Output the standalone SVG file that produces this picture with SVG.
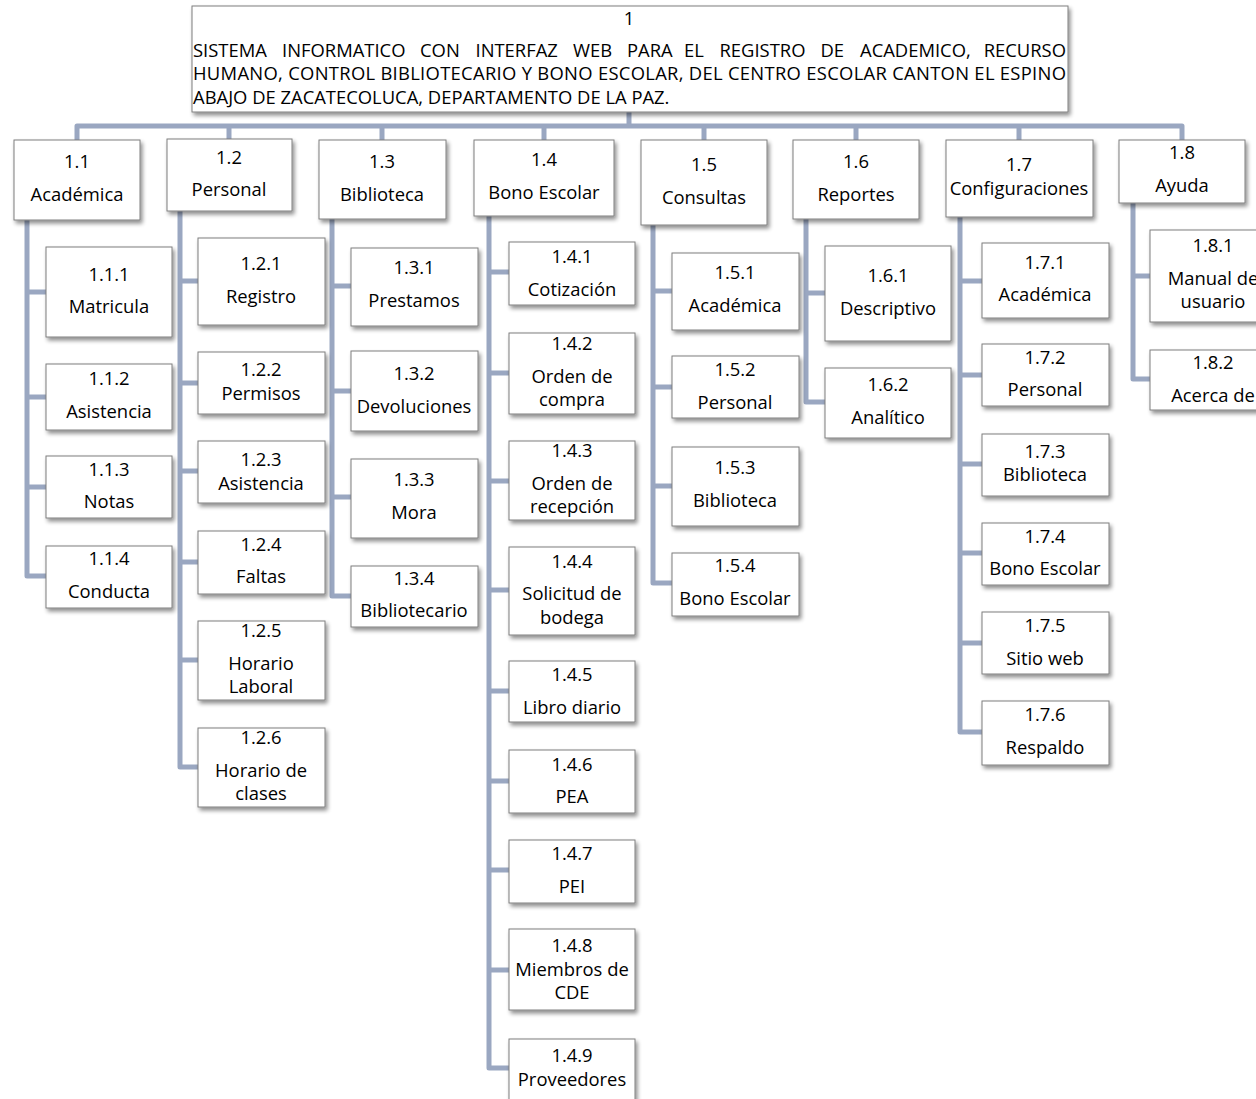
<svg xmlns="http://www.w3.org/2000/svg" width="1256" height="1099" viewBox="0 0 1256 1099">
  <defs>
    <filter id="shadow" x="-10%" y="-10%" width="130%" height="140%">
      <feGaussianBlur in="SourceAlpha" stdDeviation="2"/>
      <feOffset dx="2" dy="3" result="blur"/>
      <feComponentTransfer><feFuncA type="linear" slope="0.45"/></feComponentTransfer>
      <feMerge><feMergeNode/><feMergeNode in="SourceGraphic"/></feMerge>
    </filter>
    <style>
      .box { fill: #ffffff; stroke: #7f7f7f; stroke-width: 1; filter: url(#shadow); }
      .t { font-family: "Open Sans", "Liberation Sans", sans-serif; font-size: 18.4px; fill: #000000; text-anchor: middle; }
      .h { font-family: "Open Sans", "Liberation Sans", sans-serif; font-size: 18.4px; fill: #000000; }
      .c { fill: none; stroke: #9aa7c1; stroke-width: 5; stroke-linejoin: round; }
    </style>
  </defs>
  <rect width="1256" height="1099" fill="#ffffff"/>

  <!-- connectors -->
  <g id="connectors" class="c">
    <path d="M629,112 V126"/>
    <path d="M77,140 V126 H1182 V140"/>
    <path d="M229,126 V139 M382,126 V140 M544,126 V140 M704,126 V140 M856,126 V140 M1019,126 V140"/>
    <!-- 1.1 -->
    <path d="M27,220 V576 H46 M27,292 H46 M27,397 H46 M27,487 H46"/>
    <!-- 1.2 -->
    <path d="M180,211 V767 H198 M180,281 H198 M180,383 H198 M180,471 H198 M180,562 H198 M180,660 H198"/>
    <!-- 1.3 -->
    <path d="M332,219 V596 H351 M332,286 H351 M332,391 H351 M332,497 H351"/>
    <!-- 1.4 -->
    <path d="M489,216 V1068 H509 M489,272 H509 M489,373 H509 M489,481 H509 M489,590 H509 M489,691 H509 M489,781 H509 M489,870 H509 M489,970 H509"/>
    <!-- 1.5 -->
    <path d="M653,225 V583 H672 M653,291 H672 M653,387 H672 M653,486 H672"/>
    <!-- 1.6 -->
    <path d="M806,219 V402 H825 M806,293 H825"/>
    <!-- 1.7 -->
    <path d="M960,217 V732 H982 M960,281 H982 M960,375 H982 M960,464 H982 M960,553 H982 M960,643 H982"/>
    <!-- 1.8 -->
    <path d="M1133,203 V379 H1150 M1133,276 H1150"/>
  </g>

  <!-- root (first line justified word by word) -->
  <g id="n1">
    <rect class="box" x="192" y="6" width="876" height="106"/>
    <text class="t" x="629" y="25">1</text>
    <text class="h" y="57">
      <tspan x="193">SISTEMA</tspan><tspan x="282">INFORMATICO</tspan><tspan x="420">CON</tspan><tspan x="475.5">INTERFAZ</tspan><tspan x="573">WEB</tspan><tspan x="627">PARA</tspan><tspan x="684">EL</tspan><tspan x="719.5">REGISTRO</tspan><tspan x="820.5">DE</tspan><tspan x="860">ACADEMICO,</tspan>
    </text>
    <text class="h" x="1066" y="57" text-anchor="end">RECURSO</text>
    <text class="h" x="193" y="80" textLength="873" lengthAdjust="spacing">HUMANO, CONTROL BIBLIOTECARIO Y BONO ESCOLAR, DEL CENTRO ESCOLAR CANTON EL ESPINO</text>
    <text class="h" x="193" y="104">ABAJO DE ZACATECOLUCA, DEPARTAMENTO DE LA PAZ.</text>
  </g>

  <!-- level 1 -->
  <g id="n1_1"><rect class="box" x="14" y="140" width="126" height="80"/><text class="t" x="77" y="168">1.1</text><text class="t" x="77" y="201">Académica</text></g>
  <g id="n1_2"><rect class="box" x="167" y="139" width="125" height="72"/><text class="t" x="229" y="164">1.2</text><text class="t" x="229" y="196">Personal</text></g>
  <g id="n1_3"><rect class="box" x="319" y="140" width="127" height="79"/><text class="t" x="382" y="168">1.3</text><text class="t" x="382" y="201">Biblioteca</text></g>
  <g id="n1_4"><rect class="box" x="474" y="140" width="140" height="76"/><text class="t" x="544" y="166">1.4</text><text class="t" x="544" y="199">Bono Escolar</text></g>
  <g id="n1_5"><rect class="box" x="641" y="140" width="126" height="85"/><text class="t" x="704" y="171">1.5</text><text class="t" x="704" y="204">Consultas</text></g>
  <g id="n1_6"><rect class="box" x="793" y="140" width="126" height="79"/><text class="t" x="856" y="168">1.6</text><text class="t" x="856" y="201">Reportes</text></g>
  <g id="n1_7"><rect class="box" x="946" y="140" width="147" height="77"/><text class="t" x="1019" y="171">1.7</text><text class="t" x="1019" y="195">Configuraciones</text></g>
  <g id="n1_8"><rect class="box" x="1119" y="140" width="126" height="63"/><text class="t" x="1182" y="159">1.8</text><text class="t" x="1182" y="192">Ayuda</text></g>

  <!-- 1.1 children -->
  <g id="n1_1_1"><rect class="box" x="46" y="247" width="126" height="90"/><text class="t" x="109" y="281">1.1.1</text><text class="t" x="109" y="313">Matricula</text></g>
  <g id="n1_1_2"><rect class="box" x="46" y="364" width="126" height="66"/><text class="t" x="109" y="385">1.1.2</text><text class="t" x="109" y="418">Asistencia</text></g>
  <g id="n1_1_3"><rect class="box" x="46" y="456" width="126" height="62"/><text class="t" x="109" y="476">1.1.3</text><text class="t" x="109" y="508">Notas</text></g>
  <g id="n1_1_4"><rect class="box" x="46" y="546" width="126" height="62"/><text class="t" x="109" y="565">1.1.4</text><text class="t" x="109" y="598">Conducta</text></g>

  <!-- 1.2 children -->
  <g id="n1_2_1"><rect class="box" x="198" y="238" width="127" height="87"/><text class="t" x="261" y="270">1.2.1</text><text class="t" x="261" y="303">Registro</text></g>
  <g id="n1_2_2"><rect class="box" x="198" y="352" width="127" height="62"/><text class="t" x="261" y="376">1.2.2</text><text class="t" x="261" y="400">Permisos</text></g>
  <g id="n1_2_3"><rect class="box" x="198" y="441" width="127" height="62"/><text class="t" x="261" y="466">1.2.3</text><text class="t" x="261" y="490">Asistencia</text></g>
  <g id="n1_2_4"><rect class="box" x="198" y="531" width="127" height="63"/><text class="t" x="261" y="551">1.2.4</text><text class="t" x="261" y="583">Faltas</text></g>
  <g id="n1_2_5"><rect class="box" x="198" y="621" width="127" height="79"/><text class="t" x="261" y="637">1.2.5</text><text class="t" x="261" y="670">Horario</text><text class="t" x="261" y="693">Laboral</text></g>
  <g id="n1_2_6"><rect class="box" x="198" y="728" width="127" height="79"/><text class="t" x="261" y="744">1.2.6</text><text class="t" x="261" y="777">Horario de</text><text class="t" x="261" y="800">clases</text></g>

  <!-- 1.3 children -->
  <g id="n1_3_1"><rect class="box" x="351" y="248" width="127" height="78"/><text class="t" x="414" y="274">1.3.1</text><text class="t" x="414" y="307">Prestamos</text></g>
  <g id="n1_3_2"><rect class="box" x="351" y="351" width="127" height="80"/><text class="t" x="414" y="380">1.3.2</text><text class="t" x="414" y="413">Devoluciones</text></g>
  <g id="n1_3_3"><rect class="box" x="351" y="459" width="127" height="79"/><text class="t" x="414" y="486">1.3.3</text><text class="t" x="414" y="519">Mora</text></g>
  <g id="n1_3_4"><rect class="box" x="351" y="566" width="127" height="61"/><text class="t" x="414" y="585">1.3.4</text><text class="t" x="414" y="617">Bibliotecario</text></g>

  <!-- 1.4 children -->
  <g id="n1_4_1"><rect class="box" x="509" y="242" width="126" height="63"/><text class="t" x="572" y="263">1.4.1</text><text class="t" x="572" y="296">Cotización</text></g>
  <g id="n1_4_2"><rect class="box" x="509" y="333" width="126" height="81"/><text class="t" x="572" y="350">1.4.2</text><text class="t" x="572" y="383">Orden de</text><text class="t" x="572" y="406">compra</text></g>
  <g id="n1_4_3"><rect class="box" x="509" y="441" width="126" height="79"/><text class="t" x="572" y="457">1.4.3</text><text class="t" x="572" y="490">Orden de</text><text class="t" x="572" y="513">recepción</text></g>
  <g id="n1_4_4"><rect class="box" x="509" y="547" width="126" height="88"/><text class="t" x="572" y="568">1.4.4</text><text class="t" x="572" y="600">Solicitud de</text><text class="t" x="572" y="624">bodega</text></g>
  <g id="n1_4_5"><rect class="box" x="509" y="661" width="126" height="61"/><text class="t" x="572" y="681">1.4.5</text><text class="t" x="572" y="714">Libro diario</text></g>
  <g id="n1_4_6"><rect class="box" x="509" y="750" width="126" height="63"/><text class="t" x="572" y="771">1.4.6</text><text class="t" x="572" y="803">PEA</text></g>
  <g id="n1_4_7"><rect class="box" x="509" y="840" width="126" height="63"/><text class="t" x="572" y="860">1.4.7</text><text class="t" x="572" y="893">PEI</text></g>
  <g id="n1_4_8"><rect class="box" x="509" y="929" width="126" height="81"/><text class="t" x="572" y="952">1.4.8</text><text class="t" x="572" y="976">Miembros de</text><text class="t" x="572" y="999">CDE</text></g>
  <g id="n1_4_9"><rect class="box" x="509" y="1039" width="126" height="70"/><text class="t" x="572" y="1062">1.4.9</text><text class="t" x="572" y="1086">Proveedores</text></g>

  <!-- 1.5 children -->
  <g id="n1_5_1"><rect class="box" x="672" y="253" width="127" height="77"/><text class="t" x="735" y="279">1.5.1</text><text class="t" x="735" y="312">Académica</text></g>
  <g id="n1_5_2"><rect class="box" x="672" y="356" width="127" height="62"/><text class="t" x="735" y="376">1.5.2</text><text class="t" x="735" y="409">Personal</text></g>
  <g id="n1_5_3"><rect class="box" x="672" y="447" width="127" height="79"/><text class="t" x="735" y="474">1.5.3</text><text class="t" x="735" y="507">Biblioteca</text></g>
  <g id="n1_5_4"><rect class="box" x="672" y="553" width="127" height="63"/><text class="t" x="735" y="572">1.5.4</text><text class="t" x="735" y="605">Bono Escolar</text></g>

  <!-- 1.6 children -->
  <g id="n1_6_1"><rect class="box" x="825" y="246" width="126" height="95"/><text class="t" x="888" y="282">1.6.1</text><text class="t" x="888" y="315">Descriptivo</text></g>
  <g id="n1_6_2"><rect class="box" x="825" y="368" width="126" height="70"/><text class="t" x="888" y="391">1.6.2</text><text class="t" x="888" y="424">Analítico</text></g>

  <!-- 1.7 children -->
  <g id="n1_7_1"><rect class="box" x="982" y="243" width="127" height="75"/><text class="t" x="1045" y="269">1.7.1</text><text class="t" x="1045" y="301">Académica</text></g>
  <g id="n1_7_2"><rect class="box" x="982" y="344" width="127" height="62"/><text class="t" x="1045" y="364">1.7.2</text><text class="t" x="1045" y="396">Personal</text></g>
  <g id="n1_7_3"><rect class="box" x="982" y="434" width="127" height="62"/><text class="t" x="1045" y="458">1.7.3</text><text class="t" x="1045" y="481">Biblioteca</text></g>
  <g id="n1_7_4"><rect class="box" x="982" y="523" width="127" height="62"/><text class="t" x="1045" y="543">1.7.4</text><text class="t" x="1045" y="575">Bono Escolar</text></g>
  <g id="n1_7_5"><rect class="box" x="982" y="612" width="127" height="62"/><text class="t" x="1045" y="632">1.7.5</text><text class="t" x="1045" y="665">Sitio web</text></g>
  <g id="n1_7_6"><rect class="box" x="982" y="701" width="127" height="64"/><text class="t" x="1045" y="721">1.7.6</text><text class="t" x="1045" y="754">Respaldo</text></g>

  <!-- 1.8 children -->
  <g id="n1_8_1"><rect class="box" x="1150" y="230" width="127" height="92"/><text class="t" x="1213" y="252">1.8.1</text><text class="t" x="1213" y="285">Manual de</text><text class="t" x="1213" y="308">usuario</text></g>
  <g id="n1_8_2"><rect class="box" x="1150" y="350" width="127" height="60"/><text class="t" x="1213" y="369">1.8.2</text><text class="t" x="1213" y="402">Acerca de</text></g>
</svg>
